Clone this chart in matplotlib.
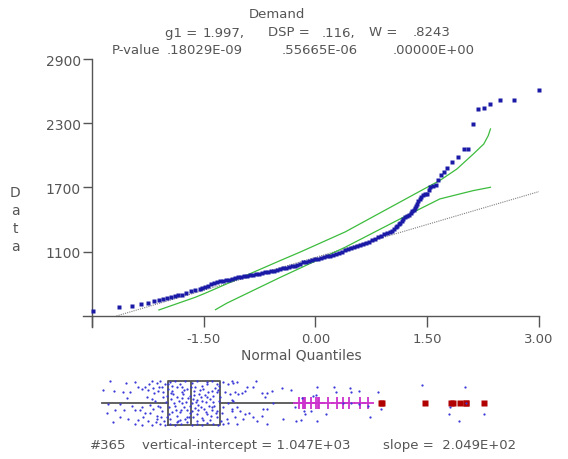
import matplotlib.pyplot as plt
import numpy as np

# normal quantiles and sorted data
qq_x = [-2.99, -2.64, -2.46, -2.34, -2.25, -2.16, -2.10, -2.04, -1.99, -1.94,
        -1.89, -1.84, -1.79, -1.73, -1.67, -1.61, -1.55, -1.52, -1.48, -1.44,
        -1.40, -1.36, -1.32, -1.28, -1.24, -1.20, -1.16, -1.12, -1.08, -1.04,
        -1.00, -0.96, -0.92, -0.88, -0.84, -0.80, -0.76, -0.72, -0.68, -0.64,
        -0.60, -0.56, -0.52, -0.48, -0.44, -0.40, -0.36, -0.32, -0.28, -0.24,
        -0.20, -0.16, -0.12, -0.08, -0.04, 0.00, 0.04, 0.08, 0.12, 0.16,
        0.20, 0.24, 0.28, 0.32, 0.36, 0.40, 0.44, 0.48, 0.52, 0.56,
        0.60, 0.64, 0.68, 0.72, 0.76, 0.80, 0.84, 0.88, 0.92, 0.96,
        1.00, 1.03, 1.06, 1.08, 1.10, 1.12, 1.14, 1.16, 1.18, 1.20,
        1.23, 1.26, 1.28, 1.30, 1.32, 1.34, 1.35, 1.36, 1.38, 1.40,
        1.42, 1.44, 1.47, 1.50, 1.52, 1.54, 1.58, 1.62, 1.65, 1.68,
        1.73, 1.77, 1.83, 1.91, 2.00, 2.05, 2.11, 2.18, 2.26, 2.35,
        2.48, 2.66, 3.00]
qq_y = [547, 587, 593, 609, 619, 643, 647, 659, 665, 675,
        684, 693, 699, 718, 730, 739, 755, 758, 768, 780,
        797, 812, 818, 822, 828, 834, 840, 848, 855, 860,
        866, 871, 876, 880, 884, 890, 896, 904, 911, 915,
        919, 924, 930, 938, 944, 950, 957, 964, 971, 980,
        990, 1000, 1008, 1015, 1022, 1029, 1036, 1043, 1050, 1057,
        1064, 1071, 1080, 1090, 1100, 1112, 1123, 1133, 1145, 1156,
        1166, 1175, 1184, 1194, 1207, 1222, 1236, 1249, 1262, 1273,
        1285, 1298, 1312, 1328, 1342, 1356, 1370, 1385, 1405, 1425,
        1433, 1445, 1462, 1478, 1494, 1510, 1530, 1550, 1570, 1590,
        1612, 1634, 1638, 1643, 1675, 1706, 1715, 1721, 1768, 1815,
        1847, 1884, 1940, 1987, 2055, 2062, 2292, 2432, 2441, 2482,
        2516, 2516, 2611]

# green envelope lines
band_hi_x = [-2.10, -1.61, -1.48, -0.47, -0.21, 0.40, 1.54, 1.67, 1.90, 2.12, 2.26, 2.32, 2.35]
band_hi_y = [556, 675, 712, 1018, 1095, 1285, 1717, 1765, 1873, 2013, 2106, 2184, 2247]
band_lo_x = [-1.34, -1.19, -0.47, 0.40, 1.18, 1.67, 2.12, 2.35]
band_lo_y = [559, 619, 861, 1142, 1422, 1593, 1671, 1702]

# fitted reference line (from the caption)
intercept = 1047.0
slope = 204.9

# box summary
box_q1, box_med, box_q3 = 902, 1026, 1186
whisk_lo, whisk_hi = 547, 1611

# jittered dots under the box plot: value, vertical jitter (box half-height = 0.5)
strip_vals = [590, 675, 725, 779, 815, 842, 860, 869, 887, 914, 941, 968, 995, 1031, 1058, 1085, 1112, 1139, 1166, 1202, 1229, 1247,
              552, 613, 662, 698, 743, 761, 797, 824, 851, 878, 905, 932, 955, 981, 1004, 1022, 1045, 1071, 1094, 1121, 1148, 1175, 1211, 1238, 923, 977, 1049, 1103,
              581, 644, 680, 707, 761, 806, 833, 860, 891, 919, 941, 963, 991, 1013, 1035, 1063, 1081, 1107, 1130, 1153, 1179, 1202, 1229, 909, 981, 1049, 1139,
              572, 617, 667, 725, 779, 824, 842, 869, 896, 923, 950, 973, 995, 1022, 1040, 1067, 1089, 1117, 1139, 1166, 1193, 1220, 1247, 914, 968, 1058, 1130,
              608, 644, 689, 743, 725, 761, 797, 815, 842, 860, 887, 914, 941, 973, 1004, 1031, 1058, 1085, 1112, 1148, 1175, 1202, 1229,
              901, 927, 950, 968, 986, 1009, 1027, 1040, 1058, 1076, 1099, 1117, 1135, 1157, 1171, 1184, 909, 934, 959, 999, 1017, 1044, 1067,
              1094, 1112, 1148, 1166, 1189, 905, 945, 977, 1006, 1035, 1081, 1125, 1161, 1179, 919, 991, 1053, 1107, 1143, 952, 1020, 1089,
              788, 806, 829, 847, 865, 878, 883, 837, 801, 855, 819, 770, 752,
              1256, 1274, 1265, 1283, 1247, 1256, 1301, 1319, 1328, 1378, 1364, 1409, 1427, 1436, 1463, 1517, 1566, 1252, 1274, 1292, 1319,
              1342, 1364, 1418, 1436, 1472, 1265, 1310, 1382, 1414, 1274, 1440, 1526, 1598, 1620, 1589, 1630, 1638, 1643, 1679, 1688, 1710,
              1702, 1710, 1760, 1800, 1814, 1886, 1890, 1936, 1985, 1994, 2039, 2057, 2278, 2426, 2421, 2475, 2507, 2610, 1850, 1890, 1936, 2512]
strip_jit = [.49, .45, .47, .36, .49, .45, .51, .37, .43, .47, .51, .43, .49, .45, .51, .39, .47, .49, .43, .47, .43, .51,
             .30, .28, .24, .24, .36, .32, .30, .34, .28, .24, .32, .21, .36, .24, .32, .17, .28, .21, .32, .24, .17, .30, .24, .21, .39, .37, .37, .19,
             -.02, -.02, .11, -.06, -.10, -.04, .05, -.08, .02, .09, -.06, .05, -.10, .11, -.01, .07, -.08, .02, .09, -.06, .05, -.10, -.01, -.10, -.01, -.11, -.10,
             -.23, -.17, -.17, -.16, -.23, -.14, -.29, -.19, -.32, -.21, -.29, -.16, -.36, -.23, -.31, -.17, -.34, -.25, -.17, -.31, -.23, -.36, -.19, -.36, -.39, -.40, -.39,
             -.44, -.31, -.36, -.39, -.48, -.49, -.40, -.51, -.36, -.48, -.51, -.48, -.51, -.48, -.44, -.51, -.48, -.51, -.46, -.48, -.51, -.48, -.46,
             .17, .28, .13, -.21, .21, -.17, .36, .09, -.25, .30, -.14, .13, -.29, .34, -.19, .13, -.26, -.01, -.40, .02, -.32, .19, -.04,
             -.39, .43, .02, .24, -.40, .43, -.17, .11, -.31, -.19, .13, -.06, -.23, .39, .22, .30, .02, -.21, .27, -.44, -.06, .05,
             .13, -.23, .22, -.06, -.31, .13, -.40, -.44, .43, .36, .09, -.32, -.17,
             .45, .47, .24, .21, .07, .04, .22, .28, .37, .49, .36, .22, .14, .22, .27, .34, .30, -.14, -.10, -.19, -.25,
             -.23, -.32, -.14, -.14, .01, -.32, -.36, -.40, -.29, -.48, -.48, -.36, -.40, -.39, -.10, .11, -.19, -.26, -.19, .17, .37,
             .19, -.40, -.25, .37, .24, .34, .24, .28, -.06, -.32, .24, -.14, .42, -.10, -.25, -.40, .37, -.25, -.01, -.01, -.02, -.01]

xticks = [-3.0, -1.5, 0.0, 1.5, 3.0]
xticklabels = ['', '-1.50', '0.00', '1.50', '3.00']
yticks = [1100, 1700, 2300, 2900]

W, H = 568, 460
txt = '#555555'
fig = plt.figure(figsize=(W / 100, H / 100), dpi=100)


def fx(x):
    return x / W


def fy(y):
    return 1 - y / H


# probability plot
ax = fig.add_axes([82.9 / W, fy(328), 456 / W, 268 / H])
ax.set_xlim(-3.12, 3.0)
ax.set_ylim(397, 2900)
for s in ['top', 'right']:
    ax.spines[s].set_visible(False)
ax.spines['bottom'].set_position(('data', 500))
ax.spines['left'].set_position(('data', -3.0))
for s in ['bottom', 'left']:
    ax.spines[s].set_color('#555555')
    ax.spines[s].set_linewidth(1.0)
ax.set_xticks(xticks)
ax.set_xticklabels(xticklabels)
ax.set_yticks(yticks)
ax.tick_params(axis='x', direction='out', length=8, width=1, pad=3.5, labelsize=9.5,
               color='#555555', labelcolor=txt)
ax.tick_params(axis='y', direction='out', length=6.5, width=1, pad=1.5, labelsize=10,
               color='#555555', labelcolor=txt)

qline = np.array([(500 - intercept) / slope, 3.0])
ax.plot(qline, intercept + slope * qline, color='#808080', ls=(0, (1, 1)), lw=0.8, zorder=2)
ax.plot(band_hi_x, band_hi_y, color='#3cbc3c', lw=0.9, zorder=2)
ax.plot(band_lo_x, band_lo_y, color='#3cbc3c', lw=0.9, zorder=2)
ax.plot(qq_x, qq_y, 's', ms=3.0, color='#1a1aa6', mec='none', clip_on=False, zorder=3)

# box plot with jittered data underneath
bax = fig.add_axes([0, fy(438), 1, 68 / H])
bax.set_xlim(-4, 3065)
bax.set_ylim(-0.773, 0.773)
bax.axis('off')
line = dict(color='#555555', lw=1.3)
bax.bxp([dict(med=box_med, q1=box_q1, q3=box_q3, whislo=whisk_lo, whishi=whisk_hi, fliers=[])],
        positions=[0], widths=1.0, orientation='horizontal', showcaps=False, showfliers=False,
        boxprops=line, medianprops=line, whiskerprops=line)
iqr = box_q3 - box_q1
out = [v for v in qq_y if v > whisk_hi]
mild = [v for v in out if v < box_q3 + 3 * iqr]
ext = [v for v in out if v >= box_q3 + 3 * iqr]
bax.plot(mild, [0] * len(mild), '+', color='#cc33cc', ms=8, mew=1.3, zorder=3)
bax.plot(ext, [0] * len(ext), 's', color='#b00000', ms=3.8, mec='none', zorder=3)
bax.scatter(strip_vals, strip_jit, s=2.6, color='#3a3ad8', lw=0, zorder=4)

# texts
fs = 9.5
fig.text(fx(277), fy(14), 'Demand', ha='center', va='center', fontsize=fs, color=txt)
# labels placed by their right edge, numbers by their left edge
for s, x in [('g1 =', 197), ('DSP =', 310), ('W =', 397)]:
    fig.text(fx(x), fy(33), s, ha='right', va='center', fontsize=fs, color=txt)
for s, x in [('1.997,', 203), ('.116,', 322), ('.8243', 413)]:
    fig.text(fx(x), fy(33), s, ha='left', va='center', fontsize=fs, color=txt)
fig.text(fx(160), fy(50), 'P-value', ha='right', va='center', fontsize=fs, color=txt)
for s, x in [('.18029E-09', 167), ('.55665E-06', 282), ('.00000E+00', 393)]:
    fig.text(fx(x), fy(50), s, ha='left', va='center', fontsize=fs, color=txt)
fig.text(fx(301), fy(356), 'Normal Quantiles', ha='center', va='center', fontsize=10, color=txt)
for ch, y in zip('Data', [193, 211, 229, 247]):
    fig.text(fx(15), fy(y), ch, ha='center', va='center', fontsize=10, color=txt)
for s, x in [('#365', 90), ('vertical-intercept = 1.047E+03', 142), ('slope =  2.049E+02', 383)]:
    fig.text(fx(x), fy(446), s, ha='left', va='center', fontsize=fs, color=txt)

fig.savefig('out.png', dpi=100)
